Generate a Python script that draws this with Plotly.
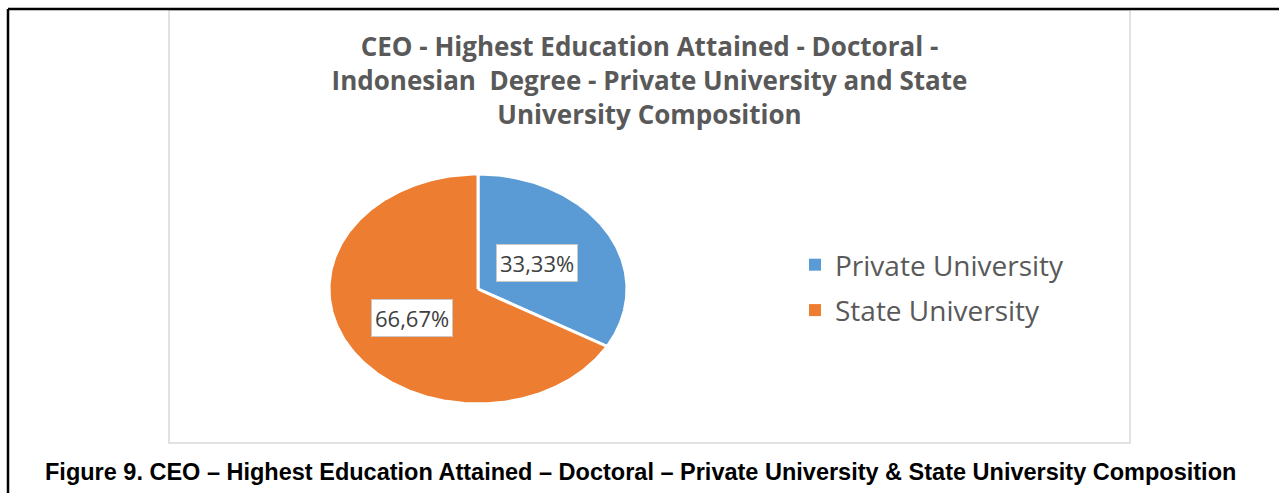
import numpy as np
import plotly.graph_objects as go

# ---- data ----
categories = ["Private University", "State University"]
shares = [33.33, 66.67]
slice_colors = ["#5B9BD5", "#ED7D31"]

chart_title = ("CEO - Highest Education Attained - Doctoral -<br>"
               "Indonesian  Degree - Private University and State<br>"
               "University Composition")
caption = ("Figure 9. CEO \u2013 Highest Education Attained \u2013 Doctoral \u2013 "
           "Private University & State University Composition")

# ---- layout geometry (pixel units, y grows downward) ----
W, H = 1279, 493
cx, cy = 478, 289          # pie centre
rx, ry = 149, 115          # pie radii (the pie is drawn slightly wide)
label_r = [0.46, 0.51]     # label distance as a fraction of the radius

fig = go.Figure()

total = sum(shares)
start = 0.0
for name, val, col, lr in zip(categories, shares, slice_colors, label_r):
    span = 2 * np.pi * val / total
    t = np.linspace(start, start + span, 240)
    xs = np.concatenate([[cx], cx + rx * np.sin(t), [cx]])
    ys = np.concatenate([[cy], cy - ry * np.cos(t), [cy]])
    fig.add_trace(go.Scatter(
        x=xs, y=ys, mode="lines", fill="toself", fillcolor=col,
        line=dict(color="white", width=3), hoverinfo="skip",
        showlegend=False, name=name,
    ))
    mid = start + span / 2
    fig.add_annotation(
        x=cx + lr * rx * np.sin(mid), y=cy - lr * ry * np.cos(mid),
        text=f"{val:.2f}%".replace(".", ","), showarrow=False,
        font=dict(family="Open Sans", size=22, color="#404040"),
        bgcolor="white", bordercolor="#c8c8c8", borderwidth=1, borderpad=3,
    )
    # legend entry
    fig.add_trace(go.Scatter(
        x=[None], y=[None], mode="markers", name=name, legendgroup=name,
        marker=dict(symbol="square", size=12, color=col),
    ))
    start += span

# chart frame (light) and outer page frame (black)
fig.add_shape(type="rect", x0=169, y0=10, x1=1130, y1=443,
              line=dict(color="#d9d9d9", width=1.5), layer="below")
fig.add_shape(type="line", x0=8, y0=9, x1=W + 5, y1=9,
              line=dict(color="black", width=2.5))
fig.add_shape(type="line", x0=8, y0=9, x1=8, y1=H + 5,
              line=dict(color="black", width=2.5))

fig.add_annotation(
    x=640, y=472, text=f"<b>{caption}</b>", showarrow=False,
    font=dict(family="Liberation Sans Narrow, Arial Narrow, Liberation Sans",
              size=23.5, color="black"),
)

fig.update_layout(
    width=W, height=H,
    margin=dict(l=0, r=0, t=0, b=0),
    paper_bgcolor="white", plot_bgcolor="white",
    title=dict(text=f"<b>{chart_title}</b>", x=649.5 / W, xanchor="center",
               y=1 - 56 / H, yanchor="top",
               font=dict(family="Open Sans", size=26, color="#595959")),
    xaxis=dict(range=[0, W], visible=False, fixedrange=True),
    yaxis=dict(range=[H, 0], visible=False, fixedrange=True),
    legend=dict(x=795 / W, y=1 - 240 / H, xanchor="left", yanchor="top",
                font=dict(family="Open Sans", size=28, color="#595959"),
                tracegroupgap=6, itemsizing="constant"),
    showlegend=True,
)

fig.write_html("out.html")
